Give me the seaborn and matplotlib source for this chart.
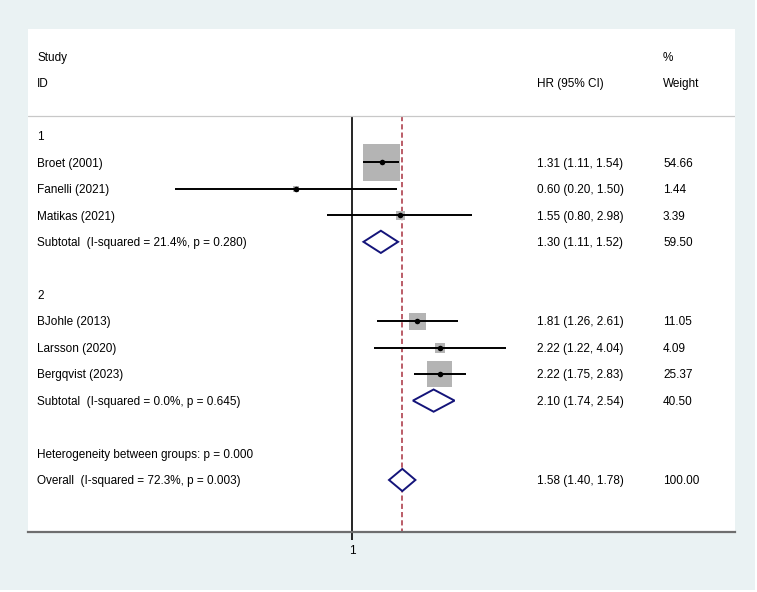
import numpy as np
import pandas as pd
import matplotlib
matplotlib.use("Agg")
import matplotlib.pyplot as plt
import seaborn as sns
from matplotlib.patches import Rectangle

# ---------------- data ----------------
studies = ["Broet (2001)", "Fanelli (2021)", "Matikas (2021)",
           "BJohle (2013)", "Larsson (2020)", "Bergqvist (2023)"]
groups = [1, 1, 1, 2, 2, 2]
hr = [1.31, 0.60, 1.55, 1.81, 2.22, 2.22]
lo = [1.11, 0.20, 0.80, 1.26, 1.22, 1.75]
hi = [1.54, 1.50, 2.98, 2.61, 4.04, 2.83]
weight = [54.66, 1.44, 3.39, 11.05, 4.09, 25.37]

sub_labels = ["Subtotal  (I-squared = 21.4%, p = 0.280)",
              "Subtotal  (I-squared = 0.0%, p = 0.645)"]
sub_hr = [1.30, 2.10]
sub_lo = [1.11, 1.74]
sub_hi = [1.52, 2.54]
sub_weight = [59.50, 40.50]

het_label = "Heterogeneity between groups: p = 0.000"
overall_label = "Overall  (I-squared = 72.3%, p = 0.003)"
overall_hr, overall_lo, overall_hi, overall_weight = 1.58, 1.40, 1.78, 100.00

x_ticks = [1]
x_ticklabels = ["1"]

# ---------------- layout rows ----------------
study_rows = [2, 3, 4, 8, 9, 10]
group_rows = [1, 7]
sub_rows = [5, 11]
het_row = 13
overall_row = 14

df = pd.DataFrame({"study": studies, "hr": hr, "lo": lo, "hi": hi,
                   "weight": weight, "row": study_rows})

# ---------------- style ----------------
sns.set_theme(style="white")
plt.rcParams["font.family"] = ["Liberation Sans", "DejaVu Sans"]
FS = 8.5
BG = "#EAF2F3"

W, H = 757, 592
fig = plt.figure(figsize=(W / 100, H / 100), dpi=100)
fig.patch.set_facecolor(BG)
# thin white strip at right and bottom edges
fig.add_artist(Rectangle((1 - 2 / W, 0), 2 / W, 1, transform=fig.transFigure,
                         facecolor="white", edgecolor="none"))
fig.add_artist(Rectangle((0, 0), 1, 2 / H, transform=fig.transFigure,
                         facecolor="white", edgecolor="none"))

px_l, px_r, px_t, px_b = 28, 735, 29, 532
ax = fig.add_axes([px_l / W, (H - px_b) / H, (px_r - px_l) / W, (px_b - px_t) / H])
ax.set_facecolor("white")

ax.set_xscale("log")
scale = 110.0
x0 = 352
ax.set_xlim(np.exp((px_l - x0) / scale), np.exp((px_r - x0) / scale))
rowpx = 26.46
top_row = 1 + (px_t - 136) / rowpx
bot_row = 1 + (px_b - 136) / rowpx
ax.set_ylim(bot_row, top_row)
hdr_row = 1 + (116 - 136) / rowpx

# squares (area proportional to weight)
k = 13.3
sns.scatterplot(data=df, x="hr", y="row", size="weight",
                sizes=(k * min(weight), k * max(weight)),
                size_norm=(min(weight), max(weight)),
                marker="s", color="#b4b4b4", linewidth=0, legend=False,
                ax=ax, zorder=2)
# CI lines
ax.hlines(df["row"], df["lo"], df["hi"], color="black", lw=1.4, zorder=3)
# point estimates
sns.scatterplot(data=df, x="hr", y="row", marker="o", color="black",
                s=16, linewidth=0, legend=False, ax=ax, zorder=4)

# diamonds
dh = 0.42
navy = "#14147a"
def diamond(y, c, l, h):
    ax.fill([l, c, h, c, l], [y, y - dh, y, y + dh, y],
            facecolor="white", edgecolor=navy, lw=1.4, zorder=3,
            joinstyle="miter")
for r, c, l, h in zip(sub_rows, sub_hr, sub_lo, sub_hi):
    diamond(r, c, l, h)
diamond(overall_row, overall_hr, overall_lo, overall_hi)

# reference lines
ax.vlines(1, hdr_row, bot_row, color="black", lw=1.2, zorder=1)
ax.vlines(overall_hr, hdr_row, bot_row, color="#a8303e", lw=1.1,
          linestyles=(0, (3.4, 2.0)), zorder=1)
ax.axhline(hdr_row, color="#c8c8c8", lw=0.9, zorder=1)

# text columns (baseline aligned, shifted so caps are centred on the row)
tr = ax.get_yaxis_transform()
xl = (37 - px_l) / (px_r - px_l)
xh = (537 - px_l) / (px_r - px_l)
xw = (663 - px_l) / (px_r - px_l)
bo = 0.16
kw = dict(transform=tr, va="baseline", ha="left", fontsize=FS, color="black")

def put(x, r, s):
    ax.text(x, r + bo, s, **kw)

put(xl, -2, "Study")
put(xl, -1, "ID")
put(xh, -1, "HR (95% CI)")
put(xw, -2, "%")
put(xw, -1, "Weight")

for r, g in zip(group_rows, [1, 2]):
    put(xl, r, str(g))
for r, s, h_, l_, u_, w_ in zip(study_rows, studies, hr, lo, hi, weight):
    put(xl, r, s)
    put(xh, r, f"{h_:.2f} ({l_:.2f}, {u_:.2f})")
    put(xw, r, f"{w_:.2f}")
for r, s, h_, l_, u_, w_ in zip(sub_rows, sub_labels, sub_hr, sub_lo, sub_hi, sub_weight):
    put(xl, r, s)
    put(xh, r, f"{h_:.2f} ({l_:.2f}, {u_:.2f})")
    put(xw, r, f"{w_:.2f}")
put(xl, het_row, het_label)
put(xl, overall_row, overall_label)
put(xh, overall_row, f"{overall_hr:.2f} ({overall_lo:.2f}, {overall_hi:.2f})")
put(xw, overall_row, f"{overall_weight:.2f}")

# axes styling
for side in ["top", "left", "right"]:
    ax.spines[side].set_visible(False)
ax.spines["bottom"].set_color("#6e6e6e")
ax.spines["bottom"].set_linewidth(1.6)
ax.set_xticks(x_ticks)
ax.set_xticklabels(x_ticklabels)
ax.xaxis.set_minor_locator(matplotlib.ticker.NullLocator())
ax.tick_params(axis="x", which="major", bottom=True, length=5.8, width=1.2,
               color="black", pad=3.5, labelsize=FS, labelcolor="black")
ax.set_yticks([])
ax.set_xlabel("")
ax.set_ylabel("")

fig.savefig("out.png", dpi=100, facecolor=fig.get_facecolor())
